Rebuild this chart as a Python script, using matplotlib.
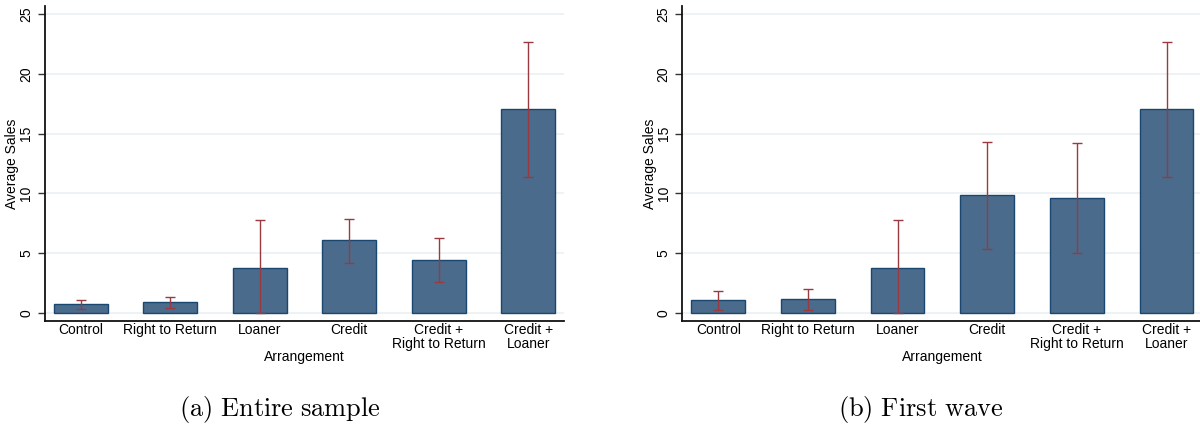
import numpy as np
import matplotlib
matplotlib.use("Agg")
import matplotlib.pyplot as plt

plt.rcParams["font.family"] = ["Liberation Sans", "DejaVu Sans"]
plt.rcParams["mathtext.fontset"] = "cm"

categories = ["Control", "Right to Return", "Loaner", "Credit",
              "Credit +\nRight to Return", "Credit +\nLoaner"]

# panel (a): entire sample
mean_a = [0.70, 0.87, 3.72, 6.06, 4.44, 17.04]
hi_a = [1.06, 1.34, 7.74, 7.82, 6.28, 22.68]
lo_a = [0.28, 0.39, 0.0, 4.19, 2.55, 11.37]

# panel (b): first wave
mean_b = [1.04, 1.12, 3.72, 9.83, 9.64, 17.04]
hi_b = [1.84, 2.01, 7.74, 14.33, 14.22, 22.68]
lo_b = [0.20, 0.20, 0.0, 5.34, 5.03, 11.37]

captions = [r"$\mathrm{(a)\ Entire\ sample}$", r"$\mathrm{(b)\ First\ wave}$"]

BAR = "#4a6b8c"
EDGE = "#1a476f"
ERR = "#9a3a40"
GRID = "#eaf0f2"


def draw_panel(ax, means, lo, hi):
    x = np.arange(len(categories))
    ax.bar(x, means, width=0.6, color=BAR, edgecolor=EDGE, linewidth=1.0, zorder=2)
    yerr = [np.array(means) - np.array(lo), np.array(hi) - np.array(means)]
    ax.errorbar(x, means, yerr=yerr, fmt="none", ecolor=ERR, elinewidth=1.0,
                capsize=3.5, capthick=1.0, zorder=3)
    ax.set_xlim(-0.4, 5.4)
    ax.set_ylim(-0.7, 25.7)
    ax.set_yticks([0, 5, 10, 15, 20, 25])
    ax.set_yticklabels(["0", "5", "10", "15", "20", "25"], rotation=90, va="center")
    ax.set_xticks(x)
    ax.set_xticklabels(categories, fontsize=10, linespacing=1.0)
    ax.tick_params(axis="x", length=0, pad=1.5)
    ax.tick_params(axis="y", length=5, width=1, labelsize=10, pad=3.5, color="#333333")
    ax.yaxis.grid(True, color=GRID, linewidth=1.2, zorder=0)
    ax.set_axisbelow(True)
    for s in ["top", "right"]:
        ax.spines[s].set_visible(False)
    for s in ["left", "bottom"]:
        ax.spines[s].set_linewidth(1.3)
        ax.spines[s].set_color("#111111")
    ax.set_ylabel("Average Sales", fontsize=10, labelpad=0)
    ax.set_xlabel("Arrangement", fontsize=10, labelpad=-1)


fig = plt.figure(figsize=(12, 4.3), dpi=100)
ax1 = fig.add_axes([0.0375, 0.2535, 0.4325, 0.7326])
ax2 = fig.add_axes([0.5687, 0.2535, 0.4333, 0.7326])

draw_panel(ax1, mean_a, lo_a, hi_a)
draw_panel(ax2, mean_b, lo_b, hi_b)

fig.text(0.233, 0.047, captions[0], ha="center", va="center", fontsize=19)
fig.text(0.767, 0.047, captions[1], ha="center", va="center", fontsize=19)

fig.savefig("out.png", dpi=100)
